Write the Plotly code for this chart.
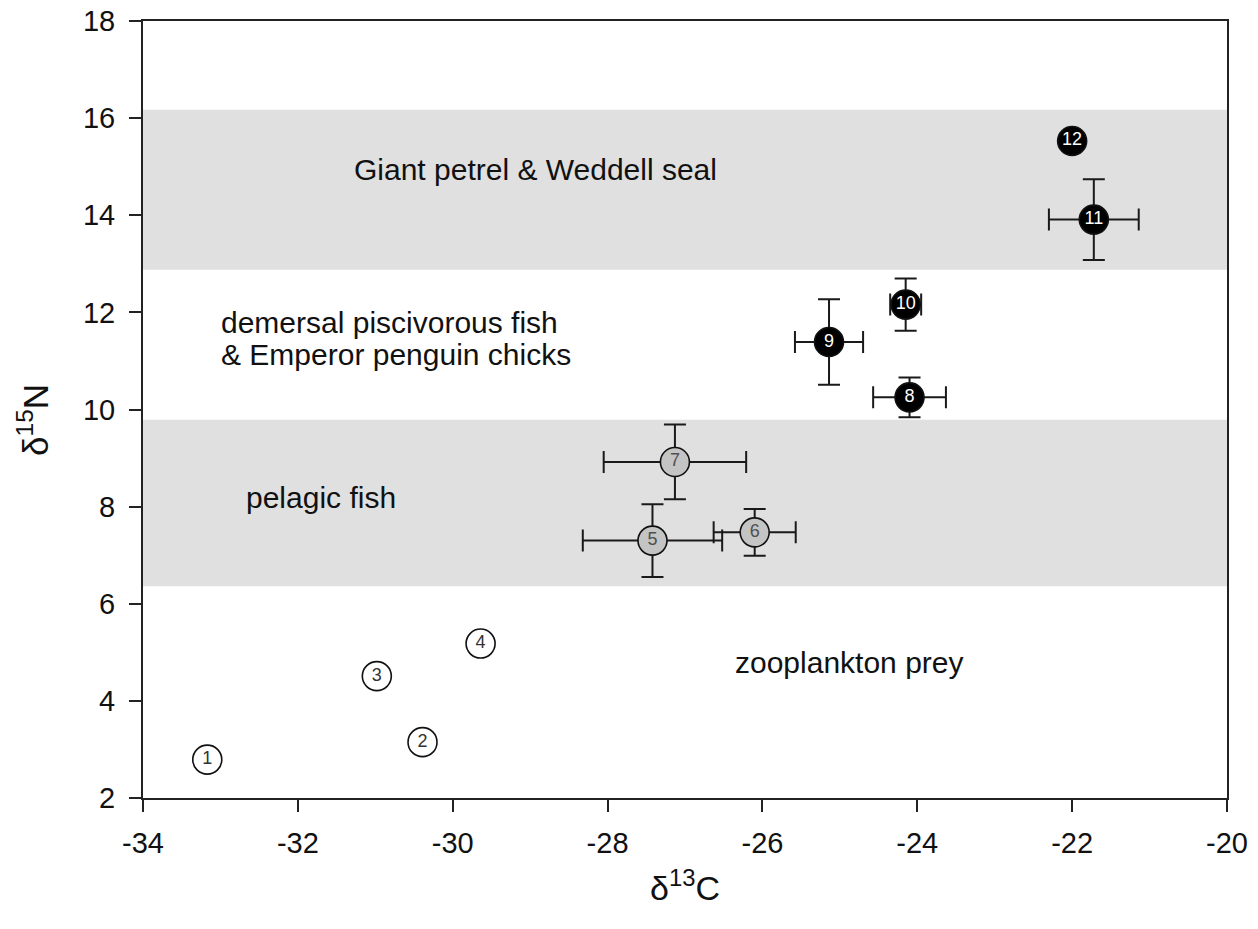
import plotly.graph_objects as go

# Stable isotope values (mean ± SD) for each numbered taxon
ids = ["1", "2", "3", "4", "5", "6", "7", "8", "9", "10", "11", "12"]
d13c = [-33.17, -30.39, -30.98, -29.64, -27.42, -26.10, -27.13, -24.10, -25.14, -24.15, -21.72, -22.00]
d15n = [2.79, 3.15, 4.51, 5.18, 7.30, 7.47, 8.92, 10.25, 11.39, 12.16, 13.91, 15.53]
d13c_sd = [None, None, None, None, 0.90, 0.53, 0.92, 0.47, 0.44, 0.20, 0.58, None]
d15n_sd = [None, None, None, None, 0.75, 0.48, 0.77, 0.41, 0.88, 0.54, 0.83, None]
group = ["zoo", "zoo", "zoo", "zoo", "pel", "pel", "pel", "top", "top", "top", "top", "top"]

# Trophic bands (δ15N ranges)
band_lo = [6.36, 12.88]
band_hi = [9.79, 16.17]

# Band / region labels
label_text = ["Giant petrel & Weddell seal", "demersal piscivorous fish",
              "& Emperor penguin chicks", "pelagic fish", "zooplankton prey"]
label_x = [-28.93, -33.02, -33.02, -32.70, -26.38]
label_y = [14.94, 11.80, 11.13, 8.19, 4.79]
label_anchor = ["center", "left", "left", "left", "left"]

x_ticks = [-34, -32, -30, -28, -26, -24, -22, -20]
x_ticktext = ["-34", "-32", "-30", "-28", "-26", "-24", "-22", "-20"]
y_ticks = [2, 4, 6, 8, 10, 12, 14, 16, 18]
y_ticktext = ["2", "4", "6", "8", "10", "12", "14", "16", "18"]

styles = {
    "zoo": dict(fill="#ffffff", text="#333333"),
    "pel": dict(fill="#c4c4c4", text="#505050"),
    "top": dict(fill="#000000", text="#ffffff"),
}

FONT = "Liberation Sans, Arial, sans-serif"
fig = go.Figure()

for g in ["zoo", "pel", "top"]:
    for with_err in (True, False):
        idx = [i for i in range(len(ids))
               if group[i] == g and ((d13c_sd[i] is not None) == with_err)]
        if not idx:
            continue
        tr = dict(
            x=[d13c[i] for i in idx],
            y=[d15n[i] for i in idx],
            text=[ids[i] for i in idx],
            mode="markers+text",
            textposition="middle center",
            textfont=dict(family=FONT, size=18, color=styles[g]["text"]),
            marker=dict(size=29, color=styles[g]["fill"],
                        line=dict(color="#111111", width=1.6)),
            showlegend=False,
            hoverinfo="x+y",
        )
        if with_err:
            tr["error_x"] = dict(type="data", array=[d13c_sd[i] for i in idx],
                                 color="#1a1a1a", thickness=2, width=11)
            tr["error_y"] = dict(type="data", array=[d15n_sd[i] for i in idx],
                                 color="#1a1a1a", thickness=2, width=11)
        fig.add_trace(go.Scatter(**tr))

shapes = [
    dict(type="rect", xref="paper", yref="y", x0=0, x1=1, y0=lo, y1=hi,
         fillcolor="#e0e0e0", line=dict(width=0), layer="below")
    for lo, hi in zip(band_lo, band_hi)
]

annotations = [
    dict(x=x, y=y, xref="x", yref="y", text=t, showarrow=False,
         xanchor=a, yanchor="middle", font=dict(family=FONT, size=30, color="#111111"))
    for t, x, y, a in zip(label_text, label_x, label_y, label_anchor)
]
annotations += [
    dict(x=0.5, y=-0.1126, xref="paper", yref="paper", text="δ<sup>13</sup>C",
         showarrow=False, xanchor="center", yanchor="middle",
         font=dict(family=FONT, size=34, color="#111111")),
    dict(x=-0.101, y=0.486, xref="paper", yref="paper", text="δ<sup>15</sup>N",
         showarrow=False, xanchor="center", yanchor="middle", textangle=-90,
         font=dict(family=FONT, size=35, color="#111111")),
]

axis_common = dict(
    showgrid=False, zeroline=False, showline=True, linecolor="#222222", linewidth=2,
    mirror=True, ticks="outside", ticklen=12, tickwidth=2, tickcolor="#222222",
    tickfont=dict(family=FONT, size=29, color="#111111"), automargin=False,
)

fig.update_layout(
    width=1258, height=929,
    margin=dict(l=143, r=31, t=21, b=131),
    paper_bgcolor="white", plot_bgcolor="white",
    shapes=shapes, annotations=annotations,
    xaxis=dict(range=[-34, -20], tickvals=x_ticks, ticktext=x_ticktext,
               ticklabelstandoff=6, **axis_common),
    yaxis=dict(range=[2, 18], tickvals=y_ticks, ticktext=y_ticktext,
               ticklabelstandoff=8, **axis_common),
)

fig.write_html("out.html")
